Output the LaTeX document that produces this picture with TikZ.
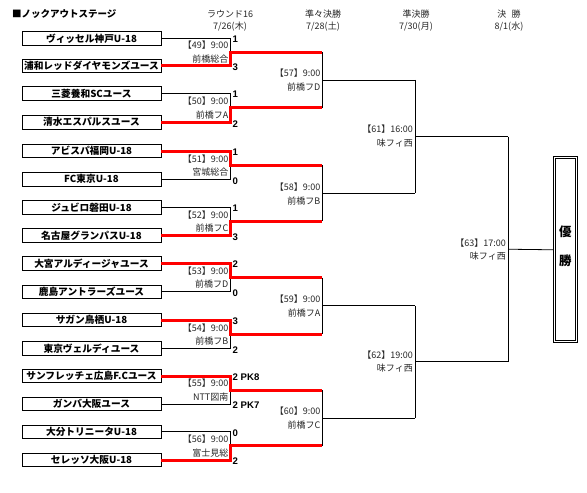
\documentclass[tikz,border=0pt]{standalone}
\usepackage{fontspec}
\setmainfont{Liberation Sans}
\newfontfamily\jp{Noto Sans CJK JP}
\usetikzlibrary{calc}
\begin{document}
\begin{tikzpicture}[x=1pt,y=-1pt,
  team/.style={draw,line width=0.9pt,minimum width=139pt,minimum height=13.5pt,inner sep=0pt,font=\jp\bfseries\fontsize{9.7}{10}\selectfont},
  lbl/.style={anchor=east,inner sep=0pt,text=black!85,font=\jp\fontsize{9}{9}\selectfont},
  scoretxt/.style={anchor=west,inner sep=0pt,font=\bfseries\fontsize{9.6}{10}\selectfont},
  hdr/.style={inner sep=0pt,text=black!85,font=\jp\fontsize{9}{9}\selectfont},
  bl/.style={draw=black,line width=0.8pt},
  rd/.style={draw=red,line width=3pt,line join=miter}]
\useasboundingbox (0,0) rectangle (587,493);
\path (230,0) coordinate (colA) (322,0) coordinate (colB) (415,0) coordinate (colC) (508,0) coordinate (colD);
% title and headers
\node[anchor=west,inner sep=0pt,font=\jp\bfseries\fontsize{9.5}{10}\selectfont] (title) at (12,14) {■ノックアウトステージ};
\node[hdr] (h1a) at (230,14) {ラウンド16};
\node[hdr] (h1b) at (230,27) {7/26(木)};
\node[hdr] (h2a) at (323,14) {準々決勝};
\node[hdr] (h2b) at (323,27) {7/28(土)};
\node[hdr] (h3a) at (416,14) {準決勝};
\node[hdr] (h3b) at (416,27) {7/30(月)};
\node[hdr] (h4a) at (509,14) {決\hspace{0.6em}勝};
\node[hdr] (h4b) at (509,27) {8/1(水)};
% teams
\foreach \i/\y/\n in {1/38.3/ヴィッセル神戸U-18,2/65.7/浦和レッドダイヤモンズユース,3/93.3/三菱養和SCユース,4/122.3/清水エスパルスユース,5/151/アビスパ福岡U-18,6/179.3/FC東京U-18,7/207.3/ジュビロ磐田U-18,8/235.3/名古屋グランパスU-18,9/263.3/大宮アルディージャユース,10/291.7/鹿島アントラーズユース,11/320/サガン鳥栖U-18,12/348.3/東京ヴェルディユース,13/376/サンフレッチェ広島F.Cユース,14/404/ガンバ大阪ユース,15/431.7/大分トリニータU-18,16/460/セレッソ大阪U-18}
  \node[team] (t\i) at (91.5,\y) {\n};
% round 1 coordinates and black lines
\foreach \k in {1,...,8}{
  \pgfmathtruncatemacro\a{2*\k-1}
  \pgfmathtruncatemacro\b{2*\k}
  \coordinate (u\k) at (t\a -| colA);
  \coordinate (d\k) at (t\b -| colA);
  \coordinate (o\k) at ($(u\k)!0.5!(d\k)$);
  \coordinate (p\k) at (o\k -| colB);
  \draw[bl] (t\a.east) -- (u\k) -- (d\k) -- (t\b.east);
}
% round 2
\foreach \j in {1,...,4}{
  \pgfmathtruncatemacro\a{2*\j-1}
  \pgfmathtruncatemacro\b{2*\j}
  \coordinate (r\j) at ($(p\a)!0.5!(p\b)$);
  \coordinate (s\j) at (r\j -| colC);
  \draw[bl] (p\a) -- (p\b);
  \draw[bl] (r\j) -- (s\j);
}
% round 3
\coordinate (v1) at ($(s1)!0.5!(s2)$);
\coordinate (v2) at ($(s3)!0.5!(s4)$);
\coordinate (w1) at (v1 -| colD);
\coordinate (w2) at (v2 -| colD);
\draw[bl] (s1) -- (s2);
\draw[bl] (s3) -- (s4);
\draw[bl] (v1) -- (w1);
\draw[bl] (v2) -- (w2);
% final
\coordinate (fin) at ($(w1)!0.5!(w2)$);
\node[draw,double,double distance=1.3pt,line width=0.9pt,minimum width=22pt,minimum height=184pt,inner sep=0pt] (champ) at (565.3,249.8) {};
\node[inner sep=0pt,font=\jp\bfseries\fontsize{12.5}{12}\selectfont] (c1) at (565.3,232) {優};
\node[inner sep=0pt,font=\jp\bfseries\fontsize{12.5}{12}\selectfont] (c2) at (565.3,261) {勝};
\draw[bl] (w1) -- (w2);
\draw[bl] (fin) -- (champ.west);
% red winner paths, scores, labels of round 1
\foreach \k/\m/\w/\wj/\sa/\sb/\ven in {1/49/2/d/1/3/前橋総合,2/50/4/d/1/2/前橋フA,3/51/5/u/1/0/宮城総合,4/52/8/d/1/3/前橋フC,5/53/9/u/2/0/前橋フD,6/54/11/u/3/2/前橋フB,7/55/13/u/2 PK8/2 PK7/NTT図南,8/56/16/d/0/2/富士見総}{
  \draw[rd] (t\w.east) -- (\wj\k) -- (o\k) -- (p\k);
  \node[scoretxt] (sa\k) at ([xshift=2.5pt,yshift=-1pt]u\k) {\sa};
  \node[scoretxt] (sb\k) at ([xshift=2.5pt,yshift=-1.5pt]d\k) {\sb};
  \node[lbl] (la\m) at ([xshift=-1.5pt,yshift=6.5pt]o\k) {【\m】9:00};
  \node[lbl] (lb\m) at ([xshift=-1.5pt,yshift=-6.8pt]o\k) {\ven};
}
% labels round 2
\foreach \j/\m/\ven in {1/57/前橋フD,2/58/前橋フB,3/59/前橋フA,4/60/前橋フC}{
  \node[lbl] (la\m) at ([xshift=-1.5pt,yshift=6.5pt]r\j) {【\m】9:00};
  \node[lbl] (lb\m) at ([xshift=-1.5pt,yshift=-7.5pt]r\j) {\ven};
}
% labels round 3 and final
\node[lbl] (la61) at ([xshift=-2pt,yshift=7pt]v1) {【61】16:00};
\node[lbl] (lb61) at ([xshift=-2pt,yshift=-6.5pt]v1) {味フィ西};
\node[lbl] (la62) at ([xshift=-2pt,yshift=7pt]v2) {【62】19:00};
\node[lbl] (lb62) at ([xshift=-2pt,yshift=-6.5pt]v2) {味フィ西};
\node[lbl] (la63) at ([xshift=-2pt,yshift=6.5pt]fin) {【63】17:00};
\node[lbl] (lb63) at ([xshift=-2pt,yshift=-7pt]fin) {味フィ西};
\end{tikzpicture}
\end{document}
